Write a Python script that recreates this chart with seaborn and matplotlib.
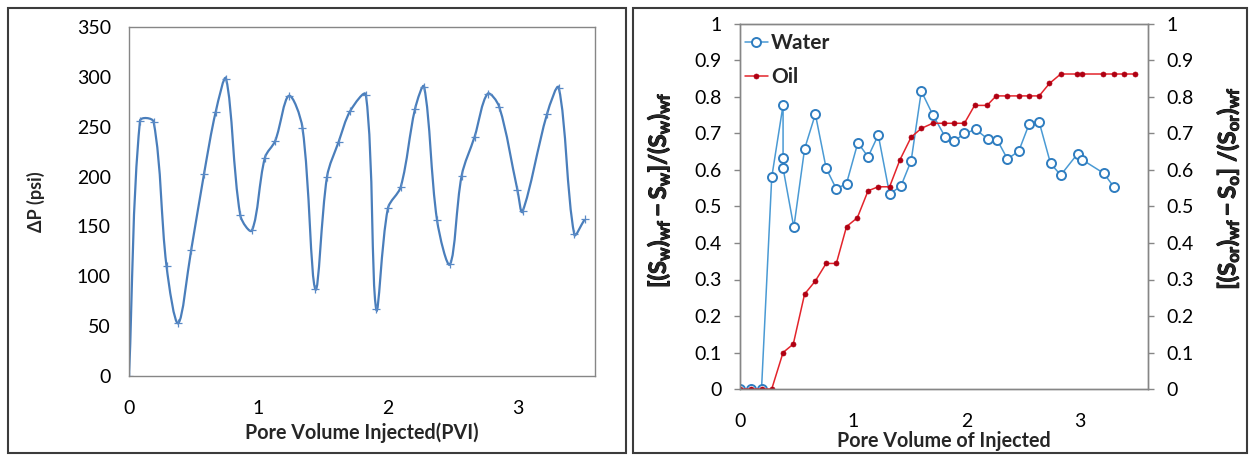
import numpy as np
import matplotlib
matplotlib.use("Agg")
import matplotlib.pyplot as plt
from matplotlib.path import Path
from matplotlib.patches import PathPatch, Rectangle
import matplotlib.patheffects as pe
import seaborn as sns

# ---------------- data ----------------
pvi_dp = [0, 0.085, 0.19, 0.29, 0.38, 0.48, 0.58, 0.67, 0.75, 0.86, 0.95, 1.05, 1.13,
          1.235, 1.34, 1.44, 1.53, 1.62, 1.71, 1.83, 1.91, 2.0, 2.10, 2.21, 2.28, 2.38,
          2.48, 2.57, 2.67, 2.77, 2.86, 3.0, 3.04, 3.23, 3.32, 3.44, 3.52]
dp_psi = [0, 256, 255, 110, 53, 126, 203, 265, 298, 161, 146, 219, 236,
          281, 249, 87, 200, 235, 266, 282, 67, 168, 190, 268, 290, 156,
          112, 201, 240, 283, 270, 187, 165, 263, 289, 142, 157]

pvi_water = [0, 0.10, 0.19, 0.28, 0.38, 0.38, 0.38, 0.475, 0.57, 0.665, 0.76, 0.85, 0.94,
             1.04, 1.13, 1.22, 1.32, 1.42, 1.51, 1.60, 1.70, 1.81, 1.89, 1.98, 2.08, 2.19,
             2.27, 2.36, 2.46, 2.55, 2.64, 2.74, 2.83, 2.98, 3.02, 3.21, 3.30]
water = [0, 0, 0, 0.58, 0.778, 0.633, 0.605, 0.443, 0.658, 0.753, 0.605, 0.548, 0.563,
         0.675, 0.636, 0.696, 0.534, 0.556, 0.625, 0.816, 0.752, 0.691, 0.679, 0.700, 0.711, 0.684,
         0.682, 0.630, 0.652, 0.725, 0.731, 0.618, 0.586, 0.645, 0.628, 0.591, 0.553]

pvi_oil = [0, 0.10, 0.19, 0.28, 0.38, 0.47, 0.57, 0.665, 0.76, 0.85, 0.94, 1.035, 1.13,
           1.22, 1.32, 1.41, 1.51, 1.60, 1.70, 1.80, 1.89, 1.98, 2.07, 2.18, 2.26, 2.36,
           2.46, 2.55, 2.64, 2.73, 2.83, 2.975, 3.015, 3.20, 3.30, 3.39, 3.485]
oil = [0, 0, 0, 0, 0.10, 0.123, 0.26, 0.296, 0.344, 0.344, 0.445, 0.469, 0.543,
       0.554, 0.554, 0.627, 0.69, 0.714, 0.728, 0.728, 0.728, 0.728, 0.777, 0.777, 0.803, 0.803,
       0.803, 0.803, 0.803, 0.837, 0.863, 0.863, 0.863, 0.863, 0.863, 0.863, 0.863]

left_yticks = [0, 50, 100, 150, 200, 250, 300, 350]
xticks = [0, 1, 2, 3]
right_yticks = [0, 0.1, 0.2, 0.3, 0.4, 0.5, 0.6, 0.7, 0.8, 0.9, 1]
right_ytick_labels = ["0", "0.1", "0.2", "0.3", "0.4", "0.5", "0.6", "0.7", "0.8", "0.9", "1"]

# ---------------- style ----------------
sns.set_theme(style="white")
plt.rcParams["font.family"] = ["Lato", "DejaVu Sans"]
plt.rcParams["mathtext.fontset"] = "custom"
plt.rcParams["mathtext.rm"] = "Lato"
plt.rcParams["mathtext.it"] = "Lato:italic"
plt.rcParams["mathtext.bf"] = "Lato:bold"
plt.rcParams["mathtext.default"] = "bf"

GRAY = "#868686"
LINE_BLUE = "#4a7ebb"
TICK_FS = 14
LABEL_FS = 14.2
THICK = [pe.withStroke(linewidth=0.7, foreground="black")]

fig = plt.figure(figsize=(12.49, 4.55), dpi=100)
W, H = 1249, 455

def fbox(x0, y0, x1, y1):
    return [x0 / W, 1 - y1 / H, (x1 - x0) / W, (y1 - y0) / H]

# panel borders
for (x0, y0, x1, y1) in [(8, 8, 626, 453), (633, 8, 1247, 453)]:
    fig.patches.append(Rectangle((x0 / W, 1 - y1 / H), (x1 - x0) / W, (y1 - y0) / H,
                                 transform=fig.transFigure, fill=False,
                                 edgecolor="#3c3c3c", linewidth=1.5))

def style_axes(ax):
    for s in ax.spines.values():
        s.set_color(GRAY)
        s.set_linewidth(1.0)
        s.set_visible(True)
    ax.tick_params(direction="out", length=4, width=1, color=GRAY,
                   labelsize=TICK_FS, labelcolor="#000000", pad=9)
    ax.grid(False)

def smooth_path(ax, x, y):
    # chord-weighted Catmull-Rom Bezier computed in display space
    pts = ax.transData.transform(np.column_stack([x, y]).astype(float))
    n = len(pts)
    verts = [pts[0]]
    codes = [Path.MOVETO]
    for i in range(n - 1):
        p0 = pts[i - 1] if i > 0 else pts[i]
        p1 = pts[i]
        p2 = pts[i + 1]
        p3 = pts[i + 2] if i + 2 < n else pts[i + 1]
        d01 = np.hypot(*(p1 - p0))
        d12 = np.hypot(*(p2 - p1))
        d23 = np.hypot(*(p3 - p2))
        f1 = d12 / (d01 + d12) if d01 + d12 > 0 else 0
        f2 = d12 / (d12 + d23) if d12 + d23 > 0 else 0
        c1 = p1 + (p2 - p0) * f1 / 3.0
        c2 = p2 - (p3 - p1) * f2 / 3.0
        verts += [c1, c2, p2]
        codes += [Path.CURVE4] * 3
    verts = ax.transData.inverted().transform(np.array(verts))
    return Path(verts, codes)

# ---------------- left chart ----------------
ax1 = fig.add_axes(fbox(129, 27, 595, 376))
ax1.set_xlim(0, 3.6)
ax1.set_ylim(0, 350)
ax1.add_patch(PathPatch(smooth_path(ax1, pvi_dp, dp_psi), facecolor="none",
                        edgecolor=LINE_BLUE, linewidth=1.6, transform=ax1.transData))
sns.lineplot(x=pvi_dp, y=dp_psi, ax=ax1, estimator=None, sort=False,
             linestyle="none", marker="+", markersize=6, markeredgewidth=0.9,
             color=LINE_BLUE, markeredgecolor="#5a8ac6")
ax1.set_xlim(0, 3.6)
ax1.set_ylim(0, 350)
ax1.set_xticks(xticks)
ax1.set_yticks(left_yticks)
style_axes(ax1)
ax1.tick_params(axis="x", pad=13)
ax1.set_xlabel("Pore Volume Injected(PVI)", fontsize=LABEL_FS, fontweight="bold", labelpad=4)
ax1.set_ylabel("ΔP (psi)", fontsize=13, fontweight="bold", labelpad=23)

# ---------------- right chart ----------------
ax2 = fig.add_axes(fbox(740, 24, 1148, 389))
sns.lineplot(x=pvi_water, y=water, ax=ax2, estimator=None, sort=False,
             color="#4a9ad4", linewidth=1.1, marker="o", markersize=6.5,
             markerfacecolor="white", markeredgecolor="#2f7dc0", markeredgewidth=1.4,
             label="Water")
sns.lineplot(x=pvi_oil, y=oil, ax=ax2, estimator=None, sort=False,
             color="#e3242b", linewidth=1.1, marker="o", markersize=3.6,
             markerfacecolor="#b00012", markeredgecolor="#b00012", markeredgewidth=0.5,
             label="Oil")
ax2.set_xlim(0, 3.6)
ax2.set_ylim(0, 1)
ax2.set_xticks(xticks)
ax2.set_yticks(right_yticks)
ax2.set_yticklabels(right_ytick_labels)
style_axes(ax2)
ax2.tick_params(axis="x", pad=13)
ax2.set_xlabel("Pore Volume of Injected", fontsize=LABEL_FS, fontweight="bold", labelpad=1)
ylab_l = ax2.set_ylabel(r"$[(S_w)_{wf} - S_w]/(S_w)_{wf}$", fontsize=17)
ylab_l.set_path_effects(THICK)
ax2.yaxis.set_label_coords(-0.167, 0.545)

ax3 = ax2.twinx()
ax3.set_ylim(0, 1)
ax3.set_yticks(right_yticks)
ax3.set_yticklabels(right_ytick_labels)
style_axes(ax3)
ylab_r = ax3.set_ylabel(r"$[(S_{or})_{wf} - S_o]\ /(S_{or})_{wf}$", fontsize=17)
ylab_r.set_path_effects(THICK)
ax3.yaxis.set_label_coords(1.16, 0.55)

leg = ax2.legend(loc="upper left", bbox_to_anchor=(0.012, 0.975), frameon=False,
                 borderaxespad=0, borderpad=0,
                 handlelength=1.1, handletextpad=0.15, labelspacing=0.68,
                 prop={"weight": "bold", "size": 15, "family": "Lato"})

fig.savefig("out.png", dpi=100)
